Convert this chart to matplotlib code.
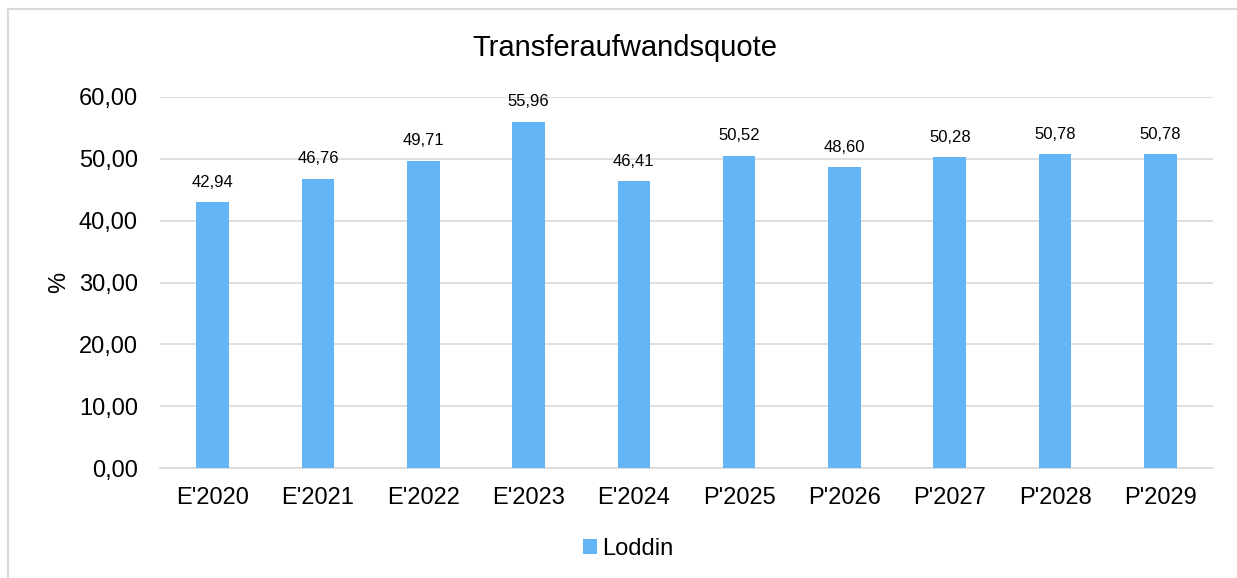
import matplotlib
matplotlib.use('Agg')
import numpy as np
from matplotlib import pyplot as plt
from matplotlib.patches import Rectangle

categories = ["E'2020", "E'2021", "E'2022", "E'2023", "E'2024",
              "P'2025", "P'2026", "P'2027", "P'2028", "P'2029"]
values = [42.94, 46.76, 49.71, 55.96, 46.41, 50.52, 48.60, 50.28, 50.78, 50.78]
series_name = 'Loddin'
yticks = [0, 10, 20, 30, 40, 50, 60]

plt.rcParams['font.family'] = ['Liberation Sans', 'DejaVu Sans']

W, H = 1237, 578
fig = plt.figure(figsize=(W / 100, H / 100), dpi=100)
ax = fig.add_axes([160 / W, 1 - 468 / H, (1213 - 160) / W, (468 - 97) / H])

x = np.arange(len(categories))
bars = ax.bar(x, values, width=0.31, color='#63B5F5', label=series_name, zorder=3)
for xi, v in zip(x, values):
    ax.annotate(f'{v:.2f}'.replace('.', ','), (xi, v), xytext=(0, 9),
                textcoords='offset points', ha='center', va='bottom', fontsize=12)

ax.set_xlim(-0.5, len(categories) - 0.5)
ax.set_ylim(0, 60)
ax.set_yticks(yticks)
ax.set_yticklabels([f'{t:.2f}'.replace('.', ',') for t in yticks], fontsize=17)
ax.set_xticks(x)
ax.set_xticklabels(categories, fontsize=17)
ax.tick_params(axis='y', length=0, pad=16)
ax.tick_params(axis='x', length=0, pad=14)
ax.grid(axis='y', color='#D9D9D9', linewidth=1.2, zorder=0)
for s in ['top', 'right', 'left']:
    ax.spines[s].set_visible(False)
ax.spines['bottom'].set_color('#D9D9D9')
ax.spines['bottom'].set_linewidth(1.2)

ax.set_ylabel('%', fontsize=17, labelpad=6)
fig.text(625 / W, 1 - 48 / H, 'Transferaufwandsquote',
         ha='center', va='center', fontsize=21)

fig.legend(handles=[bars], loc='center', bbox_to_anchor=(628 / W, 1 - 549 / H),
           frameon=False, fontsize=17, handlelength=0.6, handleheight=0.6,
           handletextpad=0.2)

fig.patches.append(Rectangle((8 / W, -0.5), 1.5, 1.5 - 9 / H,
                             transform=fig.transFigure, fill=False,
                             edgecolor='#D9D9D9', linewidth=1.5))

fig.savefig('out.png', dpi=100)
